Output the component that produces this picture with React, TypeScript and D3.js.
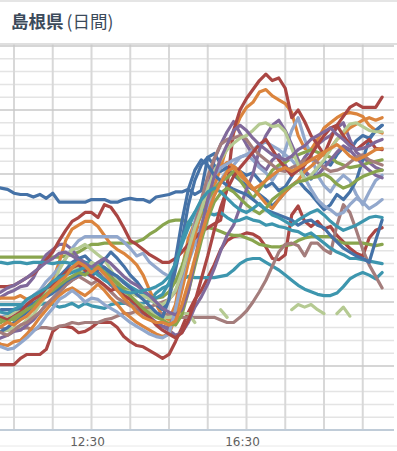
import React from 'react'
import * as d3 from 'd3'

const width = 397
const height = 451

// readings every 10 minutes, 10:00 .. 20:00
const startTime = '10:00'
const stepMinutes = 10
const gridHours = ['10:30', '11:30', '12:30', '13:30', '14:30', '15:30', '16:30', '17:30', '18:30', '19:30']
const tickLabels = ['12:30', '16:30']

const palette = ['#4572A7', '#AA4643', '#89A54E', '#80699B', '#3D96AE', '#DB843D', '#92A8CD', '#A47D7C', '#B5CA92']

const s01 = [19.0, 18.9, 18.8, 18.5, 18.4, 18.4, 18.2, 18.4, 18.1, 18.5, 17.8, 17.8, 17.8, 17.8, 17.8, 18.0, 18.0, 18.0, 17.8, 17.8, 18.0, 18.1, 18.0, 18.0, 17.8, 18.2, 18.3, 18.4, 18.6, 18.6, 18.8, 18.4, 18.7, 21.3, 21.6, 20.8, 20.5, 20.6, 20.2, 19.9, 20.1, 19.5, 19.0, 19.3, 18.7, 19.0, 19.8, 20.6, 20.2, 19.6, 20.4, 21.0, 20.7, 21.5, 22.1, 21.8, 22.6, 23.0, 22.8, 23.4, 23.8]
const s02 = [5.1, 5.1, 5.1, 5.1, 5.6, 5.9, 5.9, 5.9, 6.3, 7.7, 8.1, 8.1, 8.0, 7.6, 7.7, 8.0, 8.4, 8.4, 8.4, 8.0, 7.3, 6.9, 6.6, 6.5, 6.2, 5.9, 5.6, 5.9, 6.9, 8.0, 9.2, 10.2, 10.9, 11.9, 12.9, 14.1, 14.8, 15.1, 15.2, 15.4, 15.3, 15.0, 14.3, 13.4, 13.3, 13.7, 16.8, 17.5, 16.3, 15.9, 16.3, 15.7, 15.9, 15.2, 14.7, 14.2, 13.8, 13.6, 15.0, 15.6, 15.8]
const s03 = [13.5, 13.5, 13.5, 13.5, 13.5, 13.5, 13.5, 13.5, 13.5, 13.5, 13.5, 13.6, 13.7, 13.9, 14.2, 14.5, 14.5, 14.6, 14.6, 14.6, 14.6, 14.6, 14.7, 14.9, 15.3, 15.6, 16.0, 16.3, 16.4, 16.4, 16.2, 15.9, 15.8, 15.8, 15.7, 15.5, 15.3, 15.2, 15.2, 15.0, 14.8, 14.5, 14.4, 14.3, 14.3, 14.4, 14.5, 14.8, 15.0, 15.1, 15.1, 15.1, 15.1, 14.8, 14.6, 14.6, 14.6, 14.6, 14.5, 14.4, 14.5]
const s04 = [10.2, 10.4, 10.7, 10.9, 11.2, 11.3, 11.9, 12.9, 13.7, 14.1, 14.5, 14.5, 14.1, 13.4, 13.1, 12.8, 13.0, 12.7, 12.1, 11.5, 10.9, 10.2, 9.5, 9.1, 8.8, 8.4, 8.1, 8.0, 9.4, 11.3, 13.3, 15.2, 17.2, 18.8, 21.1, 22.3, 23.3, 24.1, 23.2, 22.3, 21.5, 20.7, 20.3, 21.1, 21.5, 20.7, 19.9, 20.5, 21.3, 21.9, 22.3, 22.7, 23.0, 23.6, 24.0, 22.7, 21.7, 21.3, 20.9, 20.5, 20.3]
const s05 = [9.8, 9.8, 9.8, 9.8, 9.8, 9.7, 9.6, 9.8, 9.9, 9.8, 9.6, 9.7, 9.9, 9.6, 9.9, 9.7, 9.6, 9.5, 9.8, 9.9, 9.9, 9.9, 9.8, 9.9, 10.1, 10.7, 11.1, 11.3, 11.6, 11.8, 12.0, 11.9, 11.9, 11.9, 11.9, 12.0, 12.1, 12.5, 13.0, 13.3, 13.4, 13.4, 13.1, 12.8, 12.5, 12.1, 11.7, 11.3, 11.0, 10.8, 10.6, 10.5, 10.5, 10.7, 11.2, 11.8, 12.1, 12.3, 12.1, 11.8, 12.3]
const s06 = [10.2, 10.3, 10.3, 10.3, 10.5, 10.2, 10.4, 10.8, 11.1, 11.7, 13.1, 14.8, 15.7, 16.0, 16.3, 16.3, 15.9, 15.2, 14.5, 14.1, 13.8, 13.4, 12.9, 12.1, 10.9, 9.8, 8.9, 8.6, 9.8, 12.5, 15.0, 16.2, 17.0, 17.5, 19.0, 20.5, 22.2, 23.2, 24.4, 25.2, 25.6, 26.4, 26.6, 26.1, 25.8, 25.5, 24.8, 23.0, 22.0, 21.9, 22.7, 23.6, 24.0, 24.4, 24.7, 24.8, 24.7, 24.5, 23.8, 23.4, 23.2]
const s07 = [8.6, 8.8, 9.0, 9.4, 9.5, 10.0, 10.5, 10.9, 11.6, 12.1, 12.7, 13.4, 14.2, 14.8, 15.1, 15.1, 15.1, 15.1, 15.1, 15.1, 14.7, 14.2, 13.6, 13.8, 13.1, 12.7, 12.3, 12.0, 11.6, 12.1, 13.1, 14.5, 16.0, 17.6, 18.8, 19.5, 20.3, 20.7, 21.3, 21.5, 21.1, 20.5, 20.1, 19.5, 20.3, 21.9, 23.4, 24.4, 22.7, 21.5, 19.9, 19.1, 18.6, 19.4, 19.9, 19.5, 18.4, 17.6, 18.6, 19.5, 19.9]
const s08 = [8.2, 8.0, 7.8, 7.9, 7.9, 8.0, 7.8, 8.0, 8.0, 7.9, 8.1, 8.2, 8.4, 8.3, 8.4, 8.4, 8.4, 8.6, 8.7, 8.9, 9.1, 9.1, 9.3, 9.4, 9.3, 9.1, 9.1, 9.0, 8.9, 8.8, 8.8, 8.8, 8.8, 8.8, 8.8, 8.6, 8.4, 8.4, 8.8, 9.3, 10.0, 10.8, 11.7, 12.8, 13.9, 14.5, 14.6, 14.4, 13.6, 14.6, 14.6, 14.1, 13.8, 16.0, 17.6, 17.0, 15.6, 14.1, 12.9, 12.0, 11.1]
const s09 = [7.4, 7.7, 7.8, 8.0, 8.1, 8.6, 9.0, 9.8, 10.5, 11.3, 12.5, 13.4, 14.1, 14.2, 14.5, 14.1, 13.7, 13.3, 12.5, 11.7, 10.9, 10.3, 9.9, 9.7, 9.4, 9.0, 8.8, 8.8, 8.9, 9.1, 9.1, 8.4, null, null, null, 9.4, 8.8, null, null, null, null, null, null, null, null, null, 9.4, 9.8, 9.6, 9.8, 9.4, 9.1, null, 9.1, 9.6, 8.9, null, null, null, null, null]
const s10 = [7.4, 7.7, 8.0, 8.4, 8.8, 9.2, 9.7, 10.3, 10.9, 11.4, 12.0, 12.5, 13.1, 13.4, 13.6, 13.1, 12.7, 13.3, 13.9, 13.4, 12.8, 12.1, 11.6, 10.9, 10.3, 9.8, 9.4, 10.2, 12.5, 14.8, 17.6, 19.5, 20.7, 21.3, 20.7, 20.2, 20.5, 19.9, 19.5, 19.1, 18.8, 18.4, 18.0, 17.5, 18.0, 18.6, 19.1, 19.5, 18.9, 18.4, 17.8, 17.2, 17.6, 18.4, 18.0, 18.6, 19.5, 21.1, 22.7, 23.4, 23.8]
const s11 = [11.2, 11.2, 11.2, 11.3, 11.6, 11.9, 12.2, 12.7, 13.3, 13.9, 14.8, 15.6, 16.3, 16.6, 17.0, 17.0, 16.6, 17.6, 17.4, 16.7, 15.8, 14.8, 14.5, 14.1, 13.7, 13.4, 13.1, 13.1, 13.4, 13.9, 14.5, 15.0, 15.5, 15.8, 16.1, 16.4, 19.1, 23.4, 25.0, 25.9, 26.6, 27.3, 27.8, 27.3, 27.5, 26.7, 24.4, 25.0, 24.1, 23.0, 22.3, 21.5, 22.7, 23.8, 24.5, 25.2, 25.5, 25.2, 25.2, 25.2, 26.0]
const s12 = [8.2, 8.4, 8.8, 8.6, 9.0, 9.4, 9.7, 10.2, 10.5, 10.9, 11.3, 11.6, 11.9, 12.3, 12.5, 12.7, 12.8, 12.3, 11.9, 11.5, 11.1, 10.8, 10.5, 10.5, 10.4, 10.3, 10.4, 10.8, 11.6, 12.8, 14.2, 15.6, 16.8, 18.0, 18.8, 19.4, 19.7, 20.2, 19.5, 18.8, 18.1, 18.8, 19.5, 20.3, 20.7, 20.9, 21.3, 21.5, 21.7, 21.9, 21.7, 21.5, 21.3, 20.9, 20.7, 20.5, 20.6, 20.7, 20.9, 21.0, 21.1]
const s13 = [7.0, 7.2, 7.4, 7.7, 7.8, 8.2, 8.6, 9.2, 9.8, 10.2, 10.8, 11.3, 11.7, 12.0, 12.3, 12.7, 12.3, 11.9, 11.3, 10.9, 10.5, 10.2, 9.7, 9.2, 8.8, 8.4, 8.1, 7.8, 7.4, 7.6, 8.4, 9.6, 10.4, 11.4, 12.6, 14.0, 15.2, 16.0, 17.4, 18.8, 20.0, 21.9, 23.0, 23.8, 24.2, 23.4, 22.3, 21.1, 20.3, 19.7, 19.9, 20.5, 21.1, 21.7, 22.2, 21.9, 21.3, 20.7, 20.3, 19.9, 19.7]
const s14 = [13.1, 13.1, 13.0, 13.1, 13.1, 13.0, 13.1, 13.1, 13.1, 13.0, 13.1, 13.1, 13.0, 13.1, 13.1, 13.0, 12.9, 12.6, 12.3, 12.0, 11.6, 11.2, 10.9, 10.6, 10.4, 10.3, 10.6, 11.5, 13.0, 14.8, 16.2, 17.0, 17.3, 17.0, 16.8, 17.0, 16.6, 16.3, 16.4, 16.6, 16.4, 16.3, 16.0, 16.1, 15.9, 15.8, 15.6, 15.5, 15.2, 15.4, 15.0, 14.6, 14.2, 13.9, 13.7, 13.4, 13.4, 13.3, 13.2, 13.1, 13.0]
const s15 = [6.9, 6.7, 6.6, 6.9, 7.0, 7.5, 8.1, 8.8, 9.4, 10.0, 10.5, 10.9, 11.1, 10.8, 10.5, 10.9, 11.4, 10.9, 10.3, 9.8, 9.2, 8.8, 8.4, 8.1, 7.8, 7.5, 7.3, 7.5, 8.8, 10.9, 13.1, 15.2, 17.2, 18.8, 19.9, 20.5, 20.9, 20.6, 20.2, 19.5, 18.9, 18.3, 17.7, 17.3, 18.0, 18.6, 19.1, 19.5, 20.2, 20.6, 21.1, 21.6, 22.0, 22.7, 23.1, 23.6, 23.9, 24.2, 24.4, 24.2, 24.4]
const s16 = [6.6, 6.5, 6.3, 6.4, 6.8, 7.2, 7.7, 8.2, 8.9, 9.5, 10.2, 10.5, 10.9, 10.5, 10.0, 10.3, 10.2, 9.8, 9.5, 9.2, 8.8, 8.4, 8.1, 7.8, 7.5, 7.3, 7.2, 7.5, 9.4, 11.7, 14.1, 16.3, 18.0, 19.1, 19.9, 20.5, 20.8, 21.1, 21.3, 21.5, 21.9, 22.3, 22.5, 22.2, 21.9, 21.5, 21.1, 20.5, 19.7, 18.8, 18.0, 17.5, 17.2, 16.8, 17.0, 17.6, 18.1, 17.8, 17.3, 17.6, 18.0]
const s17 = [7.8, 7.6, 7.4, 7.8, 8.2, 8.4, 8.8, 9.2, 9.8, 10.3, 10.8, 11.3, 11.7, 12.0, 11.7, 11.4, 11.7, 11.3, 10.8, 10.3, 10.0, 9.7, 9.6, 9.5, 9.6, 9.8, 10.0, 10.2, 10.8, 12.2, 14.0, 16.0, 18.0, 19.8, 21.2, 22.3, 22.7, 22.8, 23.0, 22.7, 22.0, 21.5, 21.1, 20.7, 20.3, 20.2, 20.5, 20.7, 21.1, 21.3, 20.9, 20.5, 20.2, 20.3, 20.5, 20.9, 21.3, 21.5, 21.1, 20.9, 20.7]
const s18 = [8.8, 8.6, 8.9, 9.2, 9.4, 9.7, 10.2, 10.5, 10.9, 11.4, 11.7, 12.1, 12.5, 12.7, 12.3, 13.1, 12.8, 12.1, 11.7, 11.3, 10.9, 10.8, 10.5, 10.5, 10.2, 9.9, 9.8, 10.2, 10.9, 12.3, 14.1, 15.8, 17.2, 18.8, 20.2, 21.1, 21.9, 22.4, 22.8, 23.0, 23.4, 23.9, 24.0, 23.7, 23.8, 23.3, 22.0, 20.7, 19.5, 19.9, 20.5, 21.1, 21.9, 22.7, 23.3, 23.9, 24.0, 23.7, 23.4, 23.3, 23.3]
const s19 = [9.2, 9.4, 9.4, 9.4, 9.5, 9.7, 9.9, 10.2, 10.4, 10.7, 11.1, 11.6, 11.9, 12.1, 12.3, 12.0, 12.5, 12.7, 12.3, 12.0, 11.5, 11.1, 10.6, 10.2, 9.7, 9.2, 8.8, 10.2, 13.3, 16.3, 18.8, 20.3, 21.1, 20.7, 19.9, 19.5, 19.1, 18.8, 18.6, 18.4, 18.0, 17.6, 17.2, 17.0, 16.8, 16.6, 16.4, 16.0, 16.3, 16.4, 16.0, 15.8, 15.2, 14.7, 14.2, 13.9, 13.6, 13.4, 13.1, 14.8, 16.4]
const s20 = [9.0, 8.8, 8.6, 8.9, 9.2, 9.8, 10.2, 10.5, 11.1, 11.3, 11.7, 12.3, 12.7, 12.9, 12.5, 12.0, 11.7, 11.3, 10.9, 11.1, 10.5, 10.2, 9.8, 9.2, 8.8, 8.2, 7.8, 7.5, 7.2, 7.6, 8.6, 10.0, 11.8, 13.6, 15.6, 17.4, 18.8, 19.8, 20.5, 21.1, 21.7, 22.3, 22.7, 21.9, 21.1, 20.5, 19.9, 20.3, 20.7, 21.5, 22.3, 23.0, 23.6, 23.8, 23.0, 22.3, 21.9, 22.3, 22.7, 22.0, 21.9]
const s21 = [8.8, 8.6, 8.4, 8.8, 9.1, 9.4, 9.7, 10.2, 10.6, 10.9, 11.3, 11.7, 12.0, 12.3, 12.1, 12.5, 12.8, 12.3, 11.9, 11.4, 10.9, 10.5, 10.0, 9.5, 9.1, 8.8, 8.6, 8.3, 8.2, 9.0, 10.8, 12.8, 14.8, 16.5, 17.8, 18.5, 18.9, 18.6, 18.1, 17.6, 17.2, 16.9, 17.3, 18.0, 18.4, 18.8, 19.1, 19.4, 19.5, 19.7, 19.8, 20.0, 19.7, 19.2, 18.9, 19.1, 19.5, 19.8, 20.0, 20.2, 20.3]
const s22 = [10.5, 10.8, 11.1, 11.3, 11.6, 11.9, 12.3, 12.7, 13.1, 13.4, 13.8, 13.9, 13.6, 13.3, 13.0, 12.7, 13.1, 13.4, 13.0, 12.5, 12.0, 11.6, 11.3, 10.9, 10.5, 10.0, 9.5, 9.2, 9.0, 9.4, 10.8, 13.2, 15.8, 18.0, 19.8, 21.2, 22.3, 23.4, 23.8, 23.4, 22.8, 22.3, 21.9, 21.5, 21.3, 21.1, 21.4, 21.9, 22.2, 22.7, 23.0, 23.3, 23.6, 23.1, 22.7, 22.2, 21.9, 22.0, 22.2, 22.5, 22.7]
const s23 = [9.4, 9.2, 9.1, 9.4, 9.7, 10.2, 10.5, 10.8, 11.1, 11.6, 11.9, 12.1, 12.3, 12.5, 12.7, 12.5, 12.1, 11.7, 11.4, 11.1, 10.8, 10.7, 10.8, 10.9, 11.0, 11.2, 11.5, 12.0, 13.0, 14.5, 15.8, 17.0, 18.0, 18.6, 18.9, 18.6, 18.1, 17.6, 17.2, 17.0, 17.3, 17.7, 17.2, 16.8, 16.6, 16.3, 16.0, 16.4, 16.7, 17.0, 17.2, 16.8, 16.3, 15.9, 15.6, 15.8, 16.0, 16.3, 16.6, 16.7, 16.6]
const s24 = [8.0, 8.1, 8.4, 8.2, 8.6, 8.9, 9.4, 10.0, 10.5, 11.1, 11.6, 12.0, 12.7, 13.1, 12.8, 12.3, 12.7, 12.2, 11.6, 10.9, 10.3, 9.8, 9.2, 8.8, 8.6, 8.4, 8.4, 8.2, 8.5, 9.8, 11.5, 13.4, 15.2, 16.9, 18.3, 19.3, 20.2, 20.5, 19.9, 19.4, 18.8, 19.1, 19.5, 19.9, 20.3, 20.5, 20.2, 20.5, 20.8, 21.1, 21.4, 21.7, 22.0, 22.3, 21.9, 21.4, 21.1, 21.3, 21.6, 21.9, 22.0]

const seriesList = [s01, s02, s03, s04, s05, s06, s07, s08, s09, s10, s11, s12, s13, s14, s15, s16, s17, s18, s19, s20, s21, s22, s23, s24]

const parseTime = d3.timeParse('%H:%M')

export default function App() {
  const plot = { left: 0, right: 394, top: 44, bottom: 430 }

  const start = parseTime(startTime) as Date
  const times = s01.map((_, i) => d3.timeMinute.offset(start, i * stepMinutes))

  const x = d3.scaleTime()
    .domain([parseTime('10:30') as Date, parseTime('19:30') as Date])
    .range([14, 362.75])

  const y = d3.scaleLinear().domain([0, 30]).range([plot.bottom, 46])

  const line = d3.line<number | null>()
    .defined(d => d != null)
    .x((_, i) => x(times[i]))
    .y(d => y(d as number))

  const hLines = d3.range(0, 31)

  return (
    <svg width={width} height={height} style={{ position: 'absolute', left: 0, top: 0, background: '#fff' }}>
      <defs>
        <clipPath id="plot-clip">
          <rect x={plot.left} y={plot.top} width={plot.right - plot.left} height={plot.bottom - plot.top} />
        </clipPath>
      </defs>
      <line x1={0} x2={width} y1={1} y2={1} stroke="#dcdcdc" strokeWidth={1.5} />
      <text x={11} y={28} fontFamily="'Noto Sans CJK JP', 'Noto Sans', sans-serif" fontSize={17.5} fill="#3b4a5a">
        <tspan fontWeight="bold">島根県</tspan>
        <tspan dx={3}>(日間)</tspan>
      </text>
      <line x1={0} x2={width} y1={44} y2={44} stroke="#d4d4d4" strokeWidth={1.5} />

      {hLines.filter(v => v % 5 !== 0).map(v => (
        <line key={'m' + v} x1={plot.left} x2={plot.right} y1={y(v)} y2={y(v)} stroke="#e4e4e4" strokeWidth={1.5} />
      ))}
      {gridHours.map(t => (
        <line key={t} x1={x(parseTime(t) as Date)} x2={x(parseTime(t) as Date)} y1={plot.top} y2={plot.bottom}
          stroke="#d8d8d8" strokeWidth={2} />
      ))}
      {hLines.filter(v => v % 5 === 0 && v > 0).map(v => (
        <line key={'M' + v} x1={plot.left} x2={plot.right} y1={y(v)} y2={y(v)} stroke="#c8c8c8" strokeWidth={1.5} />
      ))}

      <g clipPath="url(#plot-clip)">
        {seriesList.map((s, k) => (
          <path key={k} d={line(s) || ''} fill="none" stroke={palette[k % palette.length]}
            strokeWidth={3.2} strokeLinejoin="round" strokeLinecap="round" />
        ))}
      </g>

      <line x1={0} x2={plot.right} y1={plot.bottom} y2={plot.bottom} stroke="#c0ccd8" strokeWidth={2} />
      <line x1={0} x2={width} y1={446} y2={446} stroke="#e8e8e8" strokeWidth={1} />
      {tickLabels.map(t => (
        <text key={t} x={x(parseTime(t) as Date) - 4} y={446} textAnchor="middle"
          fontFamily="'DejaVu Sans', sans-serif" fontSize={12} fill="#606060">{t}</text>
      ))}
    </svg>
  )
}
